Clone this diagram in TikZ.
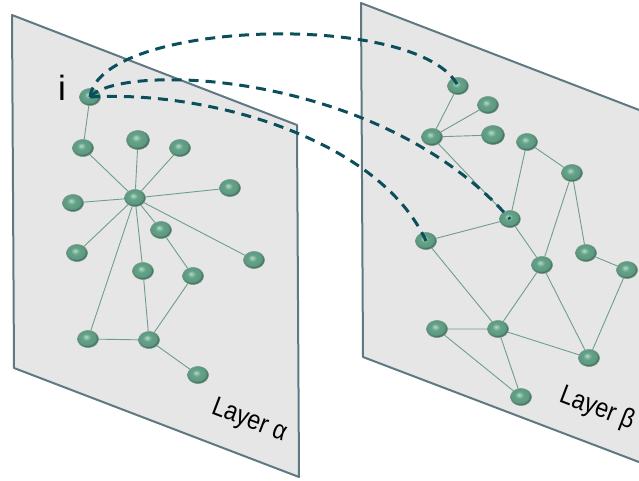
\documentclass[tikz,border=0pt]{standalone}
\usepackage{fontspec}
\usetikzlibrary{shapes.geometric}
\newfontfamily\labfont{Liberation Sans}
\newfontfamily\narrowlabfont[FakeStretch=0.86]{Liberation Sans}

\definecolor{planefill}{HTML}{E6E6E6}
\definecolor{planeedge}{HTML}{5F7882}
\definecolor{linkcol}{HTML}{6E9E8C}
\definecolor{interlink}{HTML}{0B4E5C}
\definecolor{nlight}{HTML}{B2DCCA}
\definecolor{nmid}{HTML}{64A288}
\definecolor{ndark}{HTML}{3A6856}

\pgfdeclareradialshading{nodeball}{\pgfpoint{-5bp}{7bp}}{%
  color(0bp)=(nlight); color(10bp)=(nmid); color(21bp)=(nmid!85!ndark);
  color(26bp)=(ndark); color(50bp)=(ndark)}

\tikzset{
  vtx/.style={ellipse, inner sep=0pt, minimum width=21pt, minimum height=17pt,
    shading=nodeball, draw=ndark!60, line width=0.4pt},
  bigvtx/.style={vtx, minimum width=23pt, minimum height=19pt},
  plane/.style={fill=planefill, draw=planeedge, line width=2pt, line join=round},
  link/.style={draw=linkcol, line width=0.9pt},
  interlayer/.style={draw=interlink, line width=3pt, dash pattern=on 10pt off 7pt},
  layerlabel/.style={font=\narrowlabfont\fontsize{27}{29}\selectfont, rotate=-21},
}

\begin{document}
\begin{tikzpicture}[x=1pt, y=-1pt]
\useasboundingbox (0,0) rectangle (639,480);
\clip (0,0) rectangle (639,480);

% the two layer planes
\draw[plane] (12,15) -- (297,125) -- (299,477) -- (14,368) -- cycle;
\draw[plane] (361,3) -- (660,118) -- (660,470) -- (363,357) -- cycle;

% layer alpha nodes
\node[vtx] (i)   at (90,97)  {};
\node[vtx] (a1)  at (83,148) {};
\node[bigvtx] (a2)  at (138,140) {};
\node[vtx] (a3)  at (180,148) {};
\node[vtx] (hub) at (135,198) {};
\node[vtx] (a5)  at (230,188) {};
\node[vtx] (a6)  at (73,203) {};
\node[vtx] (a7)  at (161,230) {};
\node[vtx] (a8)  at (77,253) {};
\node[vtx] (a9)  at (254,260) {};
\node[vtx] (a10) at (143,271) {};
\node[vtx] (a11) at (193,276) {};
\node[vtx] (a12) at (88,339) {};
\node[vtx] (a13) at (149,340) {};
\node[vtx] (a14) at (198,375) {};

% layer beta nodes
\node[vtx] (b1)  at (458,86)  {};
\node[vtx] (b2)  at (488,105) {};
\node[vtx] (b3)  at (432,137) {};
\node[bigvtx] (b4)  at (493,135) {};
\node[vtx] (b5)  at (527,142) {};
\node[vtx] (b6)  at (572,173) {};
\node[vtx] (b7)  at (510,219) {};
\node[vtx] (b8)  at (426,241) {};
\node[vtx] (b9)  at (542,265) {};
\node[vtx] (b10) at (586,253) {};
\node[vtx] (b11) at (627,270) {};
\node[vtx] (b12) at (437,329) {};
\node[vtx] (b13) at (498,329) {};
\node[vtx] (b14) at (589,358) {};
\node[vtx] (b15) at (521,397) {};

% intra-layer links
\path[link]
  (i) -- (a1) (a1) -- (hub) (a2) -- (hub) (a3) -- (hub) (a5) -- (hub)
  (a6) -- (hub) (hub) -- (a7) (a7) -- (a11) (hub) -- (a8) (hub) -- (a9)
  (hub) -- (a10) (hub) -- (a12) (a12) -- (a13) (a10) -- (a13)
  (a11) -- (a13) (a13) -- (a14);
\path[link]
  (b1) -- (b3) (b2) -- (b3) (b4) -- (b3) (b3) -- (b7) (b5) -- (b7)
  (b5) -- (b6) (b6) -- (b9) (b6) -- (b10) (b7) -- (b8) (b7) -- (b9)
  (b8) -- (b13) (b9) -- (b13) (b9) -- (b14) (b10) -- (b11) (b11) -- (b14)
  (b12) -- (b13) (b12) -- (b15) (b13) -- (b15) (b13) -- (b14);

% redraw nodes above the links
\foreach \n in {i,a1,a3,hub,a5,a6,a7,a8,a9,a10,a11,a12,a13,a14,
                b1,b2,b3,b5,b6,b7,b8,b9,b10,b11,b12,b13,b14,b15}
  \node[vtx] at (\n) {};
\node[bigvtx] at (a2) {};
\node[bigvtx] at (b4) {};

% inter-layer links from node i
\draw[interlayer] (i.center) .. controls (100,20) and (420,10) .. (b1.center);
\draw[interlayer] (i.center) .. controls (120,62) and (380,70) .. (b7.center);
\draw[interlayer] (i.center) .. controls (210,90) and (380,140) .. (b8.center);

% labels
\node[font=\labfont\fontsize{35}{40}\selectfont] (ilabel) at (62,88) {i};
\node[layerlabel] (la) at (249,421) {Layer α};
\node[layerlabel] (lb) at (597,409) {Layer β};
\end{tikzpicture}
\end{document}
